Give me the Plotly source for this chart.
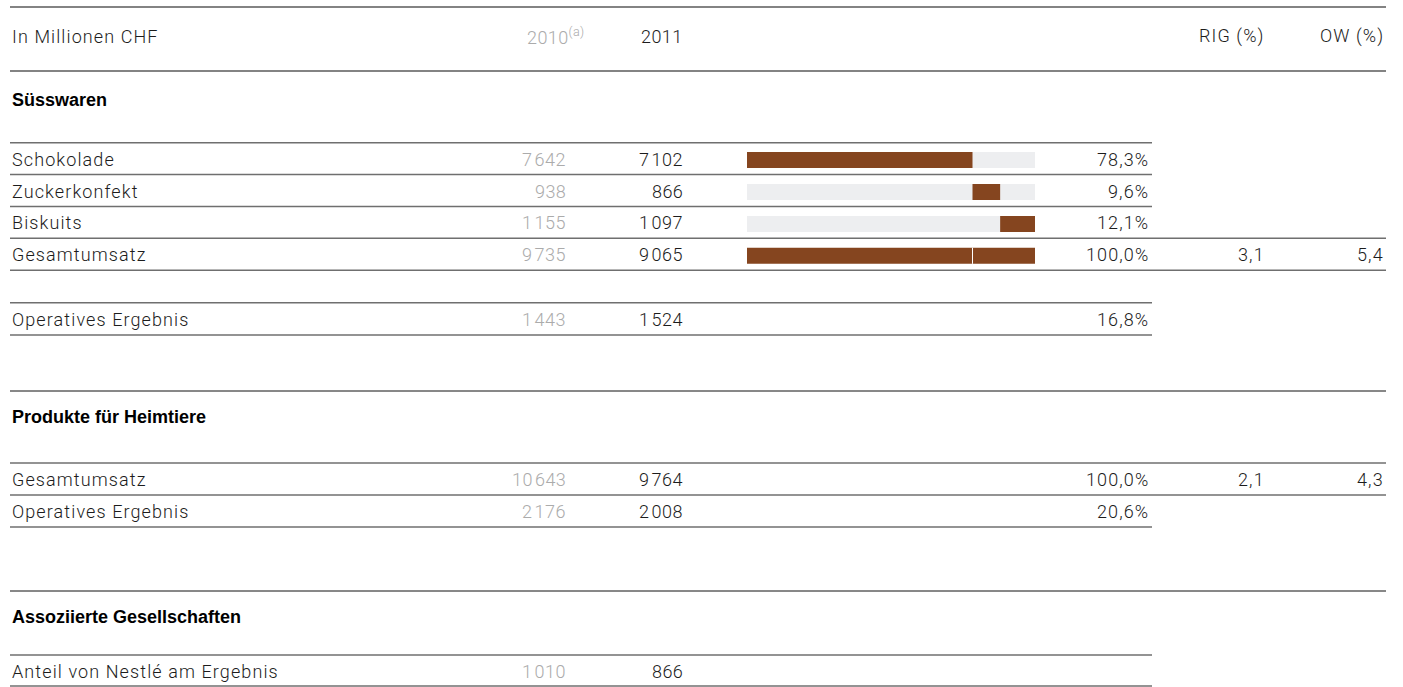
import plotly.graph_objects as go

# ---- data (Mio. CHF) ----
sw_labels = ["Schokolade", "Zuckerkonfekt", "Biskuits", "Gesamtumsatz"]
sw_2010 = [7642, 938, 1155, 9735]
sw_2011 = [7102, 866, 1097, 9065]
sw_share = [78.3, 9.6, 12.1, 100.0]
sw_rig, sw_ow = 3.1, 5.4
sw_op_2010, sw_op_2011, sw_op_margin = 1443, 1524, 16.8

pet_labels = ["Gesamtumsatz", "Operatives Ergebnis"]
pet_2010 = [10643, 2176]
pet_2011 = [9764, 2008]
pet_share = [100.0, 20.6]
pet_rig, pet_ow = 2.1, 4.3

assoc_label = "Anteil von Nestlé am Ergebnis"
assoc_2010, assoc_2011 = 1010, 866

# ---- styling ----
W, H = 1403, 687
FONT = "Roboto"
FS = 18
TRACKING = "1.1px"
INK = "#1c1c1c"
GREY_TXT = "#ababab"
BROWN = "#85451f"
TRACK = "#edeef0"
RULE = "#6f6f6f"
X_LEFT, X_SHORT, X_FULL = 10, 1152, 1386
X_2010, X_2011, X_PCT, X_RIG, X_OW = 568, 685, 1151, 1267, 1386
BAR_L, BAR_R = 747, 1035


def fmt_int(v):
    return f"{v:,}".replace(",", "\u200a")


def fmt_pct(v):
    return f"{v:.1f}%".replace(".", ",")


def fmt_dec(v):
    return f"{v:.1f}".replace(".", ",")


annotations = []
shapes = []


def text(x, y, s, anchor="left", color=INK, bold=False, size=FS, spacing=TRACKING):
    body = s if bold else f"<span style='letter-spacing:{spacing}'>{s}</span>"
    annotations.append(dict(
        x=x, y=y, xref="x", yref="y", text=body, showarrow=False,
        xanchor=anchor, yanchor="middle",
        font=dict(family="Liberation Sans" if bold else FONT, size=size,
                  color="#000000" if bold else color,
                  weight=700 if bold else 300)))


def rule(y, x1=X_SHORT, color=RULE, width=1.5):
    shapes.append(dict(type="line", xref="x", yref="y", x0=X_LEFT, x1=x1,
                       y0=y, y1=y, line=dict(color=color, width=width)))


def data_row(y, label, v10, v11, pct=None, rig=None, ow=None):
    text(X_LEFT, y, label)
    text(X_2010, y, fmt_int(v10), "right", GREY_TXT, spacing="0.4px")
    text(X_2011, y, fmt_int(v11), "right", spacing="0.4px")
    if pct is not None:
        text(X_PCT, y, fmt_pct(pct), "right")
    if rig is not None:
        text(X_RIG, y, fmt_dec(rig), "right")
        text(X_OW, y, fmt_dec(ow), "right")


def mid(a, b):
    return (a + b) / 2 + 0.5


# header
rule(7, X_FULL, "#5a5a5a")
text(X_LEFT, 36, "In Millionen CHF")
text(587, 36, "2010<sup>(a)</sup>", "right", GREY_TXT, spacing="0.4px")
text(X_2011, 36, "2011", "right", spacing="0.4px")
text(X_RIG, 36, "RIG (%)", "right")
text(X_OW, 36, "OW (%)", "right")
rule(71, X_FULL, "#5a5a5a")

# Süsswaren
text(X_LEFT, 100, "Süsswaren", bold=True)
sw_lines = [142.7, 174.5, 206.5, 238.3, 270.3]
for i, y in enumerate(sw_lines):
    rule(y, X_FULL if i >= 3 else X_SHORT)
sw_rows = [mid(a, b) for a, b in zip(sw_lines[:-1], sw_lines[1:])]
for i, lab in enumerate(sw_labels):
    last = i == len(sw_labels) - 1
    data_row(sw_rows[i], lab, sw_2010[i], sw_2011[i], sw_share[i],
             sw_rig if last else None, sw_ow if last else None)

rule(302.7)
rule(335)
data_row(mid(302.7, 335), "Operatives Ergebnis", sw_op_2010, sw_op_2011, sw_op_margin)

# Produkte für Heimtiere
rule(391, X_FULL, "#111111", 1)
text(X_LEFT, 417, "Produkte für Heimtiere", bold=True)
rule(463, X_FULL)
rule(495, X_FULL)
rule(527)
data_row(mid(463, 495), pet_labels[0], pet_2010[0], pet_2011[0], pet_share[0], pet_rig, pet_ow)
data_row(mid(495, 527), pet_labels[1], pet_2010[1], pet_2011[1], pet_share[1])

# Assoziierte Gesellschaften
rule(591, X_FULL, "#111111", 1)
text(X_LEFT, 617, "Assoziierte Gesellschaften", bold=True)
rule(655)
rule(686)
data_row(mid(655, 686), assoc_label, assoc_2010, assoc_2011)

# ---- share bars (axis x2 spans 0..100 %) ----
parts = sw_share[:3]
bases = [sum(parts[:i]) for i in range(len(parts))]
bar_y = [(a + b) / 2 + 1.5 for a, b in zip(sw_lines[:-1], sw_lines[1:])]

fig = go.Figure()
fig.add_trace(go.Bar(
    orientation="h", y=bar_y[:3], x=[100] * 3, base=[0] * 3, width=16,
    marker=dict(color=TRACK, line=dict(width=0)), xaxis="x2", yaxis="y",
    hoverinfo="skip", showlegend=False))
fig.add_trace(go.Bar(
    orientation="h", y=bar_y[:3], x=parts, base=bases, width=16,
    marker=dict(color=BROWN, line=dict(width=0)), xaxis="x2", yaxis="y",
    showlegend=False, hovertext=sw_labels[:3], hoverinfo="text+x"))
# total bar: chocolate segment plus remainder
fig.add_trace(go.Bar(
    orientation="h", y=[bar_y[3], bar_y[3]], x=[parts[0], sw_share[3] - parts[0]],
    base=[0, parts[0]], width=16,
    marker=dict(color=BROWN, line=dict(width=0)), xaxis="x2", yaxis="y",
    hoverinfo="skip", showlegend=False))
fig.add_trace(go.Scatter(
    x=[parts[0], parts[0]], y=[bar_y[3] - 8, bar_y[3] + 8], mode="lines",
    line=dict(color="white", width=1), xaxis="x2", yaxis="y",
    hoverinfo="skip", showlegend=False))

fig.update_layout(
    width=W, height=H, autosize=False,
    margin=dict(l=0, r=0, t=0, b=0, pad=0),
    paper_bgcolor="white", plot_bgcolor="rgba(0,0,0,0)",
    barmode="overlay",
    xaxis=dict(range=[0, W], visible=False, fixedrange=True),
    xaxis2=dict(range=[0, 100], domain=[BAR_L / W, BAR_R / W], anchor="y",
                visible=False, fixedrange=True),
    yaxis=dict(range=[H, 0], visible=False, fixedrange=True),
    shapes=shapes, annotations=annotations,
)

fig.write_html("out.html", config={"displayModeBar": False})
